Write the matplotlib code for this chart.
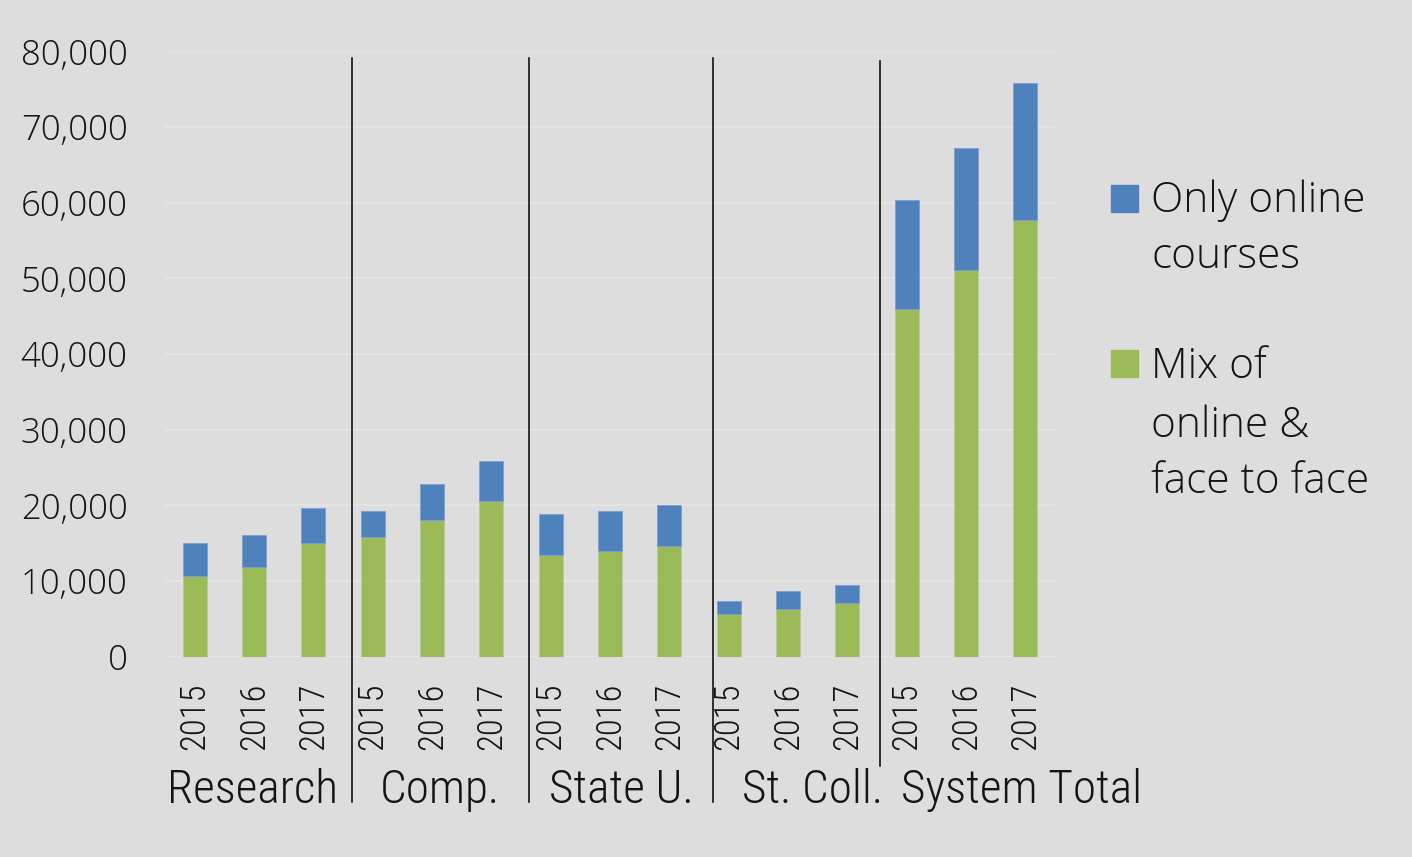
import matplotlib
matplotlib.use("Agg")
import matplotlib.pyplot as plt
import numpy as np
from matplotlib.patches import Rectangle
from matplotlib.ticker import FuncFormatter
import matplotlib.transforms as mtransforms

# ---------------- data ----------------
categories = ["Research", "Comp.", "State U.", "St. Coll.", "System Total"]
years = ["2015", "2016", "2017"]
mix_online_f2f = [10700, 11900, 15000,
                  15800, 18100, 20500,
                  13400, 13900, 14600,
                  5600, 6300, 7100,
                  45900, 51100, 57700]
only_online = [4300, 4200, 4700,
               3500, 4700, 5400,
               5500, 5400, 5400,
               1700, 2400, 2400,
               14500, 16100, 18100]
series_names = ["Only online\ncourses", "Mix of\nonline &\nface to face"]
y_ticks = [0, 10000, 20000, 30000, 40000, 50000, 60000, 70000, 80000]

# ---------------- style ----------------
BG = "#DDDDDD"
GRID = "#E4E4E4"
BLUE = "#4F81BD"
GREEN = "#9BBB59"
TXT = "#141414"
COND = dict(family="Roboto Condensed", weight=300)
LIGHT = dict(family="Open Sans", weight=300)

fig = plt.figure(figsize=(14.12, 8.57), dpi=100, facecolor=BG)
W, H = 1412, 857
ax = fig.add_axes([165 / W, (H - 656.5) / H, 890 / W, 605 / H], facecolor=BG)

x = np.arange(len(mix_online_f2f))
mix = np.array(mix_online_f2f)
onl = np.array(only_online)
ax.bar(x, mix, width=0.4, color=GREEN, edgecolor="#B9CC92", linewidth=0.6, zorder=2)
ax.bar(x, onl, width=0.4, bottom=mix, color=BLUE, edgecolor="#7C9FCB", linewidth=0.6, zorder=2)

ax.set_xlim(-0.5, len(x) - 0.5)
ax.set_ylim(0, 80000)
ax.set_yticks(y_ticks)
ax.yaxis.set_major_formatter(FuncFormatter(lambda v, p: f"{int(v):,}"))
ax.set_xticks(x)
ax.set_xticklabels(years * len(categories), rotation=90, fontsize=25, color=TXT, **COND)
for lab in ax.get_yticklabels():
    lab.set_fontsize(25)
    lab.set_color(TXT)
    lab.set_family(LIGHT["family"])
    lab.set_weight(LIGHT["weight"])
ax.tick_params(axis="x", length=0, pad=19)
ax.tick_params(axis="y", length=0, pad=27)
for s in ax.spines.values():
    s.set_visible(False)
ax.yaxis.grid(True, color=GRID, linewidth=1.6, zorder=0)
ax.set_axisbelow(True)

# group separators (data x, axes-fraction y)
trans = mtransforms.blended_transform_factory(ax.transData, ax.transAxes)
separators = [(2.652, 0.989, -0.2405), (5.635, 0.989, -0.2405),
              (8.728, 0.989, -0.2405), (11.55, 0.984, -0.181)]
for sx, y0, y1 in separators:
    ax.plot([sx, sx], [y0, y1], transform=trans, color="black", lw=1.1,
            clip_on=False, zorder=3)

# group labels
label_shift = [-0.03, 0.14, 0.2, 0.41, 0.94]
for i, cat in enumerate(categories):
    cx = i * len(years) + (len(years) - 1) / 2 + label_shift[i]
    ax.text(cx, -0.242, cat, transform=trans, ha="center", va="baseline",
            fontsize=34, color=TXT, **COND)

# legend (manual, matching the reference's layout)
def fy(py):
    return (H - py) / H

entries = [(series_names[0], BLUE, 185, [212, 268]),
           (series_names[1], GREEN, 350, [378, 437, 493])]
for label, col, top, baselines in entries:
    fig.patches.append(Rectangle((1111 / W, fy(top + 27)), 27 / W, 27 / H,
                                 transform=fig.transFigure, color=col))
    for line, b in zip(label.split("\n"), baselines):
        fig.text(1151 / W, fy(b), line, ha="left", va="baseline",
                 fontsize=30.5, color=TXT, **LIGHT)

fig.savefig("out.png", dpi=100, facecolor=BG)
